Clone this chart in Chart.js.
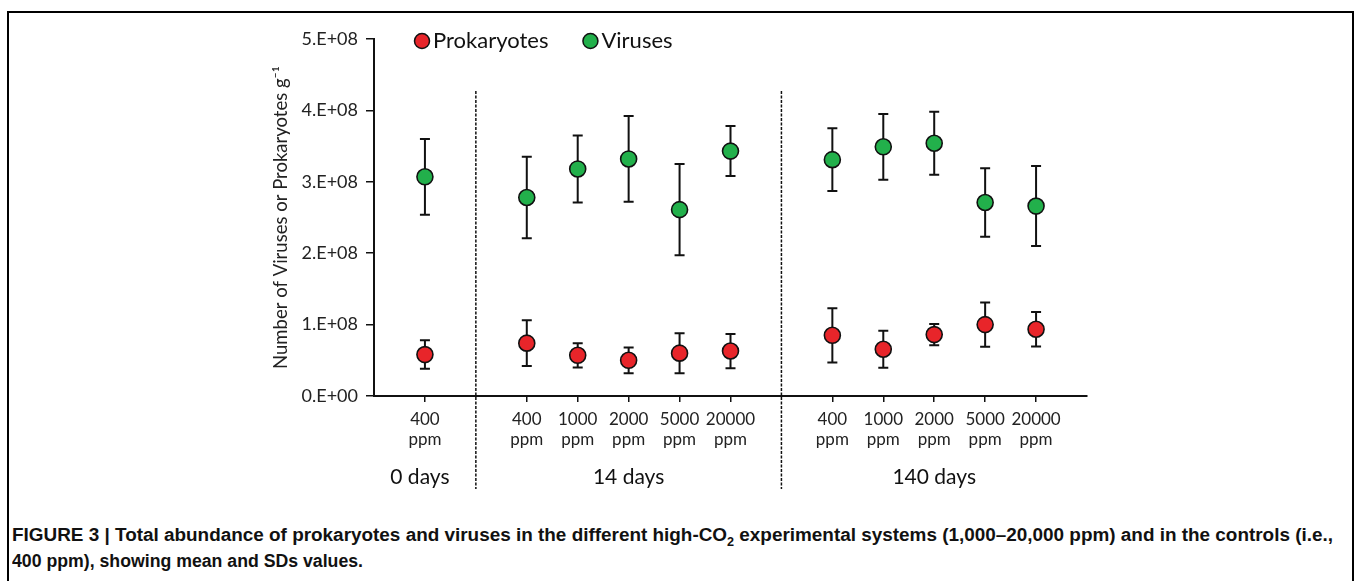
<!DOCTYPE html>
<html>
<head>
<meta charset="utf-8">
<script src="https://cdn.jsdelivr.net/npm/chart.js@4.4.1/dist/chart.umd.min.js"></script>
<style>
  body { margin: 0; background: #fff; width: 1358px; height: 581px; overflow: hidden; position: relative; }
  #frame { position: absolute; left: 7px; top: 11px; width: 1343px; height: 600px; border: 2px solid #000; }
  #wrap { position: absolute; left: 0; top: 0; width: 1358px; height: 500px; }
  #caption { position: absolute; left: 12px; top: 522px; width: 1340px;
    font-family: "Liberation Sans", Arial, sans-serif; font-weight: bold;
    font-size: 18px; line-height: 26px; color: #111; white-space: nowrap; }
  #caption span { display: inline-block; transform-origin: 0 50%; }
  #caption sub { font-size: 12px; line-height: 0; }
</style>
</head>
<body>
<div id="frame"></div>
<div id="wrap"><canvas id="grafico"></canvas></div>
<div id="caption"><span data-w="1321">FIGURE 3 | Total abundance of prokaryotes and viruses in the different high-CO<sub>2</sub> experimental systems (1,000–20,000 ppm) and in the controls (i.e.,</span><br><span data-w="351">400 ppm), showing mean and SDs values.</span></div>
<script>
// categories (blank slots hold the dashed separators)
const concentrations = ['', '400', '', '400', '1000', '2000', '5000', '20000', '', '400', '1000', '2000', '5000', '20000', '']
const days = ['', '0 days', '', '14 days', '14 days', '14 days', '14 days', '14 days', '', '140 days', '140 days', '140 days', '140 days', '140 days', '']

const prokaryotes = [null, 0.58e8, null, 0.74e8, 0.57e8, 0.50e8, 0.60e8, 0.63e8, null, 0.85e8, 0.655e8, 0.86e8, 1.00e8, 0.935e8, null]
const prokaryotesSD = [null, 0.20e8, null, 0.32e8, 0.17e8, 0.18e8, 0.28e8, 0.24e8, null, 0.38e8, 0.26e8, 0.15e8, 0.31e8, 0.24e8, null]

const viruses = [null, 3.07e8, null, 2.78e8, 3.18e8, 3.32e8, 2.61e8, 3.43e8, null, 3.31e8, 3.49e8, 3.54e8, 2.71e8, 2.66e8, null]
const virusesSD = [null, 0.53e8, null, 0.57e8, 0.47e8, 0.60e8, 0.64e8, 0.35e8, null, 0.44e8, 0.46e8, 0.44e8, 0.48e8, 0.56e8, null]

const yTicks = [0, 1e8, 2e8, 3e8, 4e8, 5e8]

const labelFont = 'Lato, "Open Sans", sans-serif'

// squeeze caption lines to the figure's width
document.querySelectorAll('#caption span[data-w]').forEach(s => {
    s.style.transform = 'scaleX(' + (s.dataset.w / s.getBoundingClientRect().width) + ')'
})

const labels = concentrations.map(c => c ? [c, 'ppm'] : '')

const data = {
    labels,
    datasets: [{
        label: 'Prokaryotes',
        data: prokaryotes,
        sd: prokaryotesSD,
        backgroundColor: '#e8252a',
        borderColor: '#111',
    }, {
        label: 'Viruses',
        data: viruses,
        sd: virusesSD,
        backgroundColor: '#22b04b',
        borderColor: '#111',
    }]
}

// error bars, under the points
const errorBars = {
    id: 'errorBars',
    beforeDatasetsDraw(chart) {
        const {ctx, scales: {x, y}} = chart
        ctx.save()
        ctx.strokeStyle = '#111'
        ctx.lineWidth = 2
        chart.data.datasets.forEach(ds => {
            ds.data.forEach((v, i) => {
                if (v == null) return
                const px = x.getPixelForValue(i)
                const top = y.getPixelForValue(v + ds.sd[i])
                const bot = y.getPixelForValue(v - ds.sd[i])
                ctx.beginPath()
                ctx.moveTo(px, top); ctx.lineTo(px, bot)
                ctx.moveTo(px - 5, top); ctx.lineTo(px + 5, top)
                ctx.moveTo(px - 5, bot); ctx.lineTo(px + 5, bot)
                ctx.stroke()
            })
        })
        ctx.restore()
    }
}

// dashed separators, group names and legend
const extras = {
    id: 'extras',
    afterDraw(chart) {
        const {ctx, chartArea, scales: {x}} = chart
        ctx.save()
        // separators
        ctx.strokeStyle = '#111'
        ctx.lineWidth = 1.5
        ctx.setLineDash([3, 1.5])
        concentrations.forEach((c, i) => {
            if (c || i === 0 || i === concentrations.length - 1) return
            const px = x.getPixelForValue(i)
            ctx.beginPath()
            ctx.moveTo(px, chartArea.top + 52)
            ctx.lineTo(px, chartArea.bottom + 93)
            ctx.stroke()
        })
        ctx.setLineDash([])
        // group names
        ctx.fillStyle = '#111'
        ctx.font = '21px ' + labelFont
        ctx.textAlign = 'center'
        ctx.textBaseline = 'middle'
        const seen = [...new Set(days.filter(d => d))]
        seen.forEach(g => {
            const idx = days.map((d, i) => d === g ? i : -1).filter(i => i >= 0)
            const cx = (x.getPixelForValue(idx[0]) + x.getPixelForValue(idx[idx.length - 1])) / 2
            ctx.fillText(g, cx - (idx.length === 1 ? 5 : 0), chartArea.bottom + 81)
        })
        // legend
        ctx.font = '22px ' + labelFont
        ctx.textAlign = 'left'
        let lx = chartArea.left + 48
        chart.data.datasets.forEach(ds => {
            ctx.beginPath()
            ctx.arc(lx, chartArea.top + 2, 7.5, 0, Math.PI * 2)
            ctx.fillStyle = ds.backgroundColor
            ctx.fill()
            ctx.lineWidth = 1.5
            ctx.strokeStyle = '#111'
            ctx.stroke()
            ctx.fillStyle = '#111'
            ctx.fillText(ds.label, lx + 11, chartArea.top + 2)
            lx += 11 + ctx.measureText(ds.label).width + 42
        })
        ctx.restore()
    }
}

const config = {
    type: 'line',
    data,
    options: {
        responsive: true,
        maintainAspectRatio: false,
        animation: false,
        showLine: false,
        layout: {
            padding: {left: 270, right: 271, top: 39, bottom: 0}
        },
        elements: {
            point: {radius: 8, borderWidth: 1.6, hoverRadius: 8}
        },
        scales: {
            x: {
                offset: false,
                afterFit(scale) { scale.height = 104 },
                border: {color: '#111', width: 2},
                grid: {
                    drawOnChartArea: false,
                    tickLength: 6,
                    color: ctx => concentrations[ctx.index] ? '#111' : 'rgba(0,0,0,0)',
                    lineWidth: 1.5,
                },
                ticks: {
                    autoSkip: false,
                    maxRotation: 0,
                    color: '#222',
                    padding: 7,
                    font: {family: labelFont, size: 17, lineHeight: 1.2},
                }
            },
            y: {
                min: 0,
                max: 5e8,
                afterFit(scale) { scale.width = 104 },
                afterBuildTicks(scale) { scale.ticks = yTicks.map(v => ({value: v})) },
                border: {color: '#111', width: 2},
                grid: {
                    drawOnChartArea: false,
                    tickLength: 8,
                    color: '#111',
                    lineWidth: 1.5,
                },
                ticks: {
                    color: '#222',
                    padding: 8,
                    font: {family: labelFont, size: 18},
                    callback: v => v === 0 ? '0.E+00' : (v / 1e8) + '.E+08'
                },
                title: {
                    display: true,
                    text: 'Number of Viruses or Prokaryotes g⁻¹',
                    color: '#222',
                    padding: 0,
                    font: {family: labelFont, size: 18.5},
                }
            }
        },
        plugins: {
            legend: {display: false},
            title: {display: false},
            tooltip: {enabled: false}
        }
    },
    plugins: [errorBars, extras]
}

const meuGrafico = new Chart(document.getElementById('grafico'), config)
</script>
</body>
</html>
